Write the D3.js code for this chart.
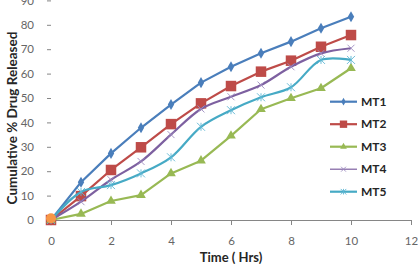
<!DOCTYPE html>
<html><head><meta charset="utf-8">
<script src="https://cdn.jsdelivr.net/npm/d3@7"></script>
<style>body{margin:0;background:#fff}svg{display:block}</style>
</head><body>
<svg id="c" width="419" height="264"></svg>
<script>
const times = [0,1,2,3,4,5,6,7,8,9,10];
const seriesNames = ["MT1","MT2","MT3","MT4","MT5"];
const mt1 = [0,15.5,27.3,37.8,47.3,56.3,62.8,68.3,73.1,78.6,83.3];
const mt2 = [0,9.8,20.5,29.8,39.3,47.8,54.9,60.8,65.3,71,75.8];
const mt3 = [0,2.5,7.8,10.2,19.1,24.3,34.5,45.4,49.9,54,62.2];
const mt4 = [0,7.5,16.5,24,35,45.5,50.5,55.3,62.8,68.3,70.4];
const mt5 = [0,11.5,14.3,19.1,25.7,38.2,45,50.3,54.4,65.6,65.6];
const originPoint = [0,0.7];
const xTicks = [0,2,4,6,8,10,12];
const yTicks = [0,10,20,30,40,50,60,70,80,90];
const colors = ["#4A7EBB","#BE4B48","#98B954","#7D60A0","#46AAC5"];
const symbols = ["diamond","square","triangle","cross","asterisk"];
const smooth = [false,false,false,true,true];
const allValues = [mt1,mt2,mt3,mt4,mt5];

const svg = d3.select("#c");
const x = d3.scaleLinear().domain([0,12]).range([51,411]);
const y = d3.scaleLinear().domain([0,90]).range([220,0.4]);

// x axis
const xa = svg.append("g").attr("transform","translate(0,220)")
  .call(d3.axisBottom(x).tickValues(xTicks).tickSize(5).tickPadding(12).tickFormat(d3.format("d")));
xa.select(".domain").attr("stroke","#868686");
xa.selectAll(".tick line").attr("stroke","#868686");
xa.selectAll("text").attr("font-family","Lato, sans-serif").attr("font-size","11.5px").attr("fill","#666");

// y axis (no line)
const ya = svg.append("g").attr("transform","translate(51,0)")
  .call(d3.axisLeft(y).tickValues(yTicks).tickSize(4).tickPadding(13));
ya.select(".domain").remove();
ya.selectAll(".tick line").attr("stroke","#868686");
ya.selectAll("text").attr("font-family","Lato, sans-serif").attr("font-size","11.5px").attr("fill","#666");

// titles
svg.append("text").attr("x",231).attr("y",262).attr("text-anchor","middle")
  .attr("font-family","Lato, sans-serif").attr("font-weight","bold").attr("font-size","13px").attr("fill","#262626")
  .text("Time ( Hrs)");
svg.append("text").attr("transform","translate(17,118) rotate(-90)").attr("text-anchor","middle")
  .attr("font-family","Lato, sans-serif").attr("font-weight","bold").attr("font-size","13.5px").attr("fill","#262626")
  .text("Cumulative % Drug Released");

function marker(g, type, color, size){
  if(type==="diamond") g.append("path").attr("d",d3.symbol(d3.symbolDiamond, size*size*0.55)()).attr("fill",color);
  else if(type==="square") g.append("rect").attr("x",-size/2).attr("y",-size/2).attr("width",size).attr("height",size).attr("fill",color);
  else if(type==="triangle") g.append("path").attr("d",d3.symbol(d3.symbolTriangle, size*size*0.45)()).attr("fill",color);
  else if(type==="cross"){
    const s=size/2;
    g.append("path").attr("d",`M${-s},${-s}L${s},${s}M${-s},${s}L${s},${-s}`).attr("stroke",color).attr("stroke-width",0.9).attr("fill","none");
  } else if(type==="asterisk"){
    const s=size/2;
    g.append("path").attr("d",`M${-s},${-s}L${s},${s}M${-s},${s}L${s},${-s}M0,${-s}L0,${s}`).attr("stroke",color).attr("stroke-width",0.9).attr("fill","none");
  }
}
const msize = [8,10.5,9.5,7,8];
const lineW = [2.2,2.2,2.2,2.2,2.2];

allValues.forEach((vals,i)=>{
  const data = times.map((t,j)=>[t,vals[j]]);
  const line = d3.line().x(d=>x(d[0])).y(d=>y(d[1]))
    .curve(smooth[i]? d3.curveCatmullRom.alpha(0.5) : d3.curveLinear);
  const g = svg.append("g");
  g.append("path").datum(data).attr("d",line).attr("fill","none")
    .attr("stroke",colors[i]).attr("stroke-width",lineW[i]).attr("stroke-linejoin","round");
  data.forEach(d=>{
    const mg = g.append("g").attr("transform",`translate(${x(d[0])},${y(d[1])})`);
    marker(mg, symbols[i], i===3? "#9d8bbf" : (i===4? "#5fb7d4": colors[i]), msize[i]);
  });
});

// origin orange point
svg.append("circle").attr("cx",x(originPoint[0])).attr("cy",y(originPoint[1])).attr("r",5).attr("fill","#F79646");

// legend
const lg = svg.append("g");
seriesNames.forEach((n,i)=>{
  const ly = 101.7 + i*22.5;
  lg.append("line").attr("x1",330).attr("x2",357).attr("y1",ly).attr("y2",ly)
    .attr("stroke",colors[i]).attr("stroke-width", i===3?1.2:2.2);
  const mg = lg.append("g").attr("transform",`translate(343.5,${ly})`);
  marker(mg, symbols[i], i===3? "#9d8bbf" : (i===4? "#5fb7d4": colors[i]), msize[i]*0.7);
  lg.append("text").attr("x",361).attr("y",ly+4.2).attr("font-family","Lato, sans-serif")
    .attr("font-weight","bold").attr("font-size","12px").attr("fill","#262626").text(n);
});
</script>
</body></html>
